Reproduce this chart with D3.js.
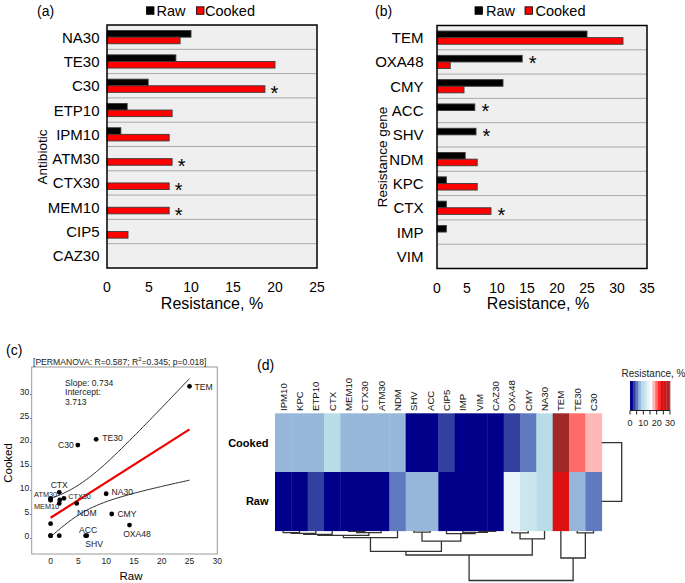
<!DOCTYPE html>
<html><head><meta charset="utf-8">
<script src="https://cdn.jsdelivr.net/npm/d3@7"></script>
<style>
body{margin:0;background:#fff}
svg{display:block;font-family:"Liberation Sans",Arial,sans-serif}
</style></head><body>
<svg id="c" width="685" height="583"></svg>
<script>
// ---------------- DATA ----------------
const series = ["Raw", "Cooked"];
const antibiotics = ["NA30","TE30","C30","ETP10","IPM10","ATM30","CTX30","MEM10","CIP5","CAZ30"];
const abRaw    = [10, 8.2, 4.9, 2.4, 1.65, 0, 0, 0, 0, 0];
const abCooked = [8.7, 20, 18.8, 7.75, 7.4, 7.75, 7.4, 7.4, 2.5, 0];
const abStars  = [["C30","Cooked"],["ATM30","Cooked"],["CTX30","Cooked"],["MEM10","Cooked"]];
const abTicks  = [0, 5, 10, 15, 20, 25];

const genes      = ["TEM","OXA48","CMY","ACC","SHV","NDM","KPC","CTX","IMP","VIM"];
const geneRaw    = [25, 14.2, 11, 6.3, 6.5, 4.7, 1.56, 1.56, 1.56, 0];
const geneCooked = [31, 2.2, 4.5, 0, 0, 6.7, 6.7, 9, 0, 0];
const geneStars  = [["OXA48","Raw"],["ACC","Raw"],["SHV","Raw"],["CTX","Cooked"]];
const geneTicks  = [0, 5, 10, 15, 20, 25, 30, 35];

const regSlope = 0.734, regIntercept = 3.713;
const permanova = {R: "0.587", R2: "0.345", p: "0.018"};
const scatterTicks = [0, 5, 10, 15, 20, 25, 30];
const scatterLabelled = ["TEM","TE30","C30","CTX","ATM30","MEM10","CTX30","NDM","NA30","CMY","OXA48","ACC","SHV"];

const hmCols = ["IPM10","KPC","ETP10","CTX","MEM10","CTX30","ATM30","NDM","SHV","ACC","CIP5","IMP","VIM","CAZ30","OXA48","CMY","NA30","TEM","TE30","C30"];
const hmRows = ["Cooked", "Raw"];
const hmThresholds = [2.1, 4.2, 6.3, 8.4, 10.5, 12.6, 14.7, 16.8, 18.9, 21, 23.1, 25.2, 27.3, 29.4];
const hmColours = ["#00008b","#3340a0","#6079bf","#96b7da","#b8dde8","#cce6ef","#e8f4f8","#ffffff",
                   "#ffb6b6","#ff6b6b","#ff2a2a","#dd1111","#c81818","#b22222","#a02828"];
const legendTicks = [0, 5, 10, 15, 20, 25, 30];
const legendLabels = [0, 10, 20, 30];

// column dendrogram merges: [left, right, height]
const colMerges = [
  ["IPM10","KPC",1.6], ["m0","ETP10",2.4], ["m1","CTX",3.4],
  ["MEM10","CTX30",0.4], ["m3","ATM30",1.6], ["m2","m4",4.4], ["m5","NDM",6.6],
  ["SHV","ACC",1.2], ["VIM","CAZ30",0.4], ["IMP","m8",1.4], ["CIP5","m9",2.6],
  ["m7","m10",10.2], ["m6","m11",20.4],
  ["OXA48","CMY",1.8], ["m13","NA30",7.8], ["m12","m14",24.0],
  ["TE30","C30",1.8], ["TEM","m16",27.0], ["m15","m17",49.5]
];
const colMaxHeight = 49.5;
const rowMerge = ["Cooked","Raw",1];

// ---------------- DRAW ----------------
const svg = d3.select("#c");
const fill = {Raw: "#000000", Cooked: "#ff0000"};

function barPanel(o) {
  const g = svg.append("g");
  const x = d3.scaleLinear().domain([0, o.xmax]).range([o.x0, o.x1]);
  const y = d3.scaleBand().domain(o.cats).range([o.y0, o.y1]);
  const ys = d3.scaleBand().domain(series).range([0, y.bandwidth()]).paddingOuter(0.84);
  g.append("rect").attr("x", o.x0).attr("y", o.y0).attr("width", o.x1 - o.x0)
    .attr("height", o.y1 - o.y0).attr("fill", "#efefef");
  g.selectAll(".grid").data(o.cats.slice(1)).join("line")
    .attr("x1", o.x0).attr("x2", o.x1).attr("y1", d => y(d)).attr("y2", d => y(d))
    .attr("stroke", "#a8a8a8").attr("stroke-width", 1);
  const rows = o.cats.map((c, i) => ({cat: c, Raw: o.raw[i], Cooked: o.cooked[i]}));
  const bars = rows.flatMap(r => series.map(s => ({cat: r.cat, s, v: r[s]}))).filter(d => d.v > 0);
  g.selectAll(".bar").data(bars).join("rect")
    .attr("x", x(0)).attr("y", d => y(d.cat) + ys(d.s))
    .attr("width", d => x(d.v) - x(0)).attr("height", ys.bandwidth())
    .attr("fill", d => fill[d.s]).attr("stroke", "#3a3a3a").attr("stroke-width", 0.9);
  g.append("rect").attr("x", o.x0).attr("y", o.y0).attr("width", o.x1 - o.x0)
    .attr("height", o.y1 - o.y0).attr("fill", "none").attr("stroke", "#000").attr("stroke-width", 1.5);
  g.selectAll(".cl").data(o.cats).join("text")
    .attr("x", o.x0 - o.labGap).attr("y", d => y(d) + y.bandwidth() / 2)
    .attr("text-anchor", "end").attr("dominant-baseline", "central")
    .attr("font-size", 15).text(d => d);
  g.selectAll(".tl").data(o.ticks).join("text")
    .attr("x", d => x(d)).attr("y", o.y1 + 19).attr("text-anchor", "middle")
    .attr("dominant-baseline", "central").attr("font-size", 14).text(d => d);
  g.append("text").attr("x", (o.x0 + o.x1) / 2 + o.titleShift).attr("y", o.y1 + 35)
    .attr("text-anchor", "middle").attr("dominant-baseline", "central")
    .attr("font-size", 16).text("Resistance, %");
  g.append("text").attr("transform", `translate(${o.ytX},157) rotate(-90)`)
    .attr("text-anchor", "middle").attr("dominant-baseline", "central")
    .attr("font-size", 13.5).text(o.ytitle);
  // legend
  const lg = g.append("g");
  o.legend.forEach((L, i) => {
    lg.append("rect").attr("x", L.sx).attr("y", 6.8).attr("width", 7.5).attr("height", 7.5)
      .attr("fill", fill[series[i]]).attr("stroke", "#000").attr("stroke-width", 0.8);
    lg.append("text").attr("x", L.tx).attr("y", 10.8).attr("dominant-baseline", "central")
      .attr("font-size", 14.5).text(series[i]);
  });
  g.append("text").attr("x", o.panelX).attr("y", 10.5).attr("dominant-baseline", "central")
    .attr("font-size", 14).text(o.panel);
  // stars
  const lookup = Object.fromEntries(rows.map(r => [r.cat, r]));
  g.selectAll(".star").data(o.stars).join("text")
    .attr("x", d => x(Math.max(lookup[d[0]].Raw, lookup[d[0]].Cooked)) + o.starGap)
    .attr("y", d => y(d[0]) + ys(d[1]) + ys.bandwidth() / 2 + 11.2)
    .attr("text-anchor", "middle").attr("font-size", 20).text("*");
}

barPanel({cats: antibiotics, raw: abRaw, cooked: abCooked, stars: abStars, ticks: abTicks,
  xmax: 25, x0: 107, x1: 317, y0: 25, y1: 268, labGap: 7.5, ytitle: "Antibiotic", ytX: 42,
  titleShift: 0, panel: "(a)", panelX: 37, starGap: 9.5,
  legend: [{sx: 146.5, tx: 156.5}, {sx: 196.5, tx: 205}]});
barPanel({cats: genes, raw: geneRaw, cooked: geneCooked, stars: geneStars, ticks: geneTicks,
  xmax: 35, x0: 437, x1: 647, y0: 25.5, y1: 268.5, labGap: 13.5, ytitle: "Resistance gene", ytX: 382,
  titleShift: -4, panel: "(b)", panelX: 375, starGap: 10.5,
  legend: [{sx: 475, tx: 486}, {sx: 525, tx: 535.5}]});

// ---------------- (c) scatter ----------------
(function () {
  const names = antibiotics.concat(genes);
  const rawV = abRaw.concat(geneRaw), cookV = abCooked.concat(geneCooked);
  const pts = names.map((n, i) => ({n, x: rawV[i], y: cookV[i]}));
  const g = svg.append("g");
  const xs = d3.scaleLinear().domain([-3.4, 30]).range([31.7, 217.3]);
  const ys = d3.scaleLinear().domain([-3.8, 35]).range([554, 367]);
  g.append("rect").attr("x", 31.7).attr("y", 367).attr("width", 217.3 - 31.7).attr("height", 554 - 367)
    .attr("fill", "none").attr("stroke", "#9a9a9a").attr("stroke-width", 1);
  g.selectAll(".xt").data(scatterTicks).join("text").attr("x", d => xs(d)).attr("y", 560.5)
    .attr("text-anchor", "middle").attr("dominant-baseline", "central").attr("font-size", 8.5).attr("fill", "#222").text(d => d);
  g.selectAll(".yt").data(scatterTicks).join("text").attr("x", 31.5).attr("y", d => ys(d) + 0.5)
    .attr("text-anchor", "end").attr("dominant-baseline", "central").attr("font-size", 8.5).attr("fill", "#222").text(d => d + ".");
  g.append("text").attr("x", 131).attr("y", 576).attr("text-anchor", "middle").attr("dominant-baseline", "central")
    .attr("font-size", 11.5).text("Raw");
  g.append("text").attr("transform", "translate(7.5,463) rotate(-90)").attr("text-anchor", "middle")
    .attr("dominant-baseline", "central").attr("font-size", 11.5).text("Cooked");
  g.append("text").attr("x", 6).attr("y", 350).attr("dominant-baseline", "central").attr("font-size", 14).text("(c)");
  const pt = g.append("text").attr("x", 33).attr("y", 362).attr("dominant-baseline", "central").attr("font-size", 8.6).attr("fill", "#222");
  pt.append("tspan").text(`[PERMANOVA: R=${permanova.R}; R`);
  pt.append("tspan").attr("font-size", 6).attr("dy", -3).text("2");
  pt.append("tspan").attr("dy", 3).text(`=${permanova.R2}; p=${permanova.p}]`);
  const st = g.append("g").attr("font-size", 8.6).attr("fill", "#222");
  [`Slope: ${regSlope}`, "Intercept:", `${regIntercept}`].forEach((t, i) =>
    st.append("text").attr("x", 65).attr("y", 383 + i * 9.3).attr("dominant-baseline", "central").text(t));
  // regression + 95% confidence band
  const n = pts.length, xbar = d3.mean(pts, d => d.x);
  const sxx = d3.sum(pts, d => (d.x - xbar) ** 2);
  const sres = Math.sqrt(d3.sum(pts, d => (d.y - (regIntercept + regSlope * d.x)) ** 2) / (n - 2));
  const tcrit = 2.101;
  const xMax = d3.max(pts, d => d.x);
  const grid = d3.range(0, xMax + 0.001, 0.25);
  const band = sgn => grid.map(v => [v, regIntercept + regSlope * v + sgn * tcrit * sres * Math.sqrt(1 / n + (v - xbar) ** 2 / sxx)]);
  const line = d3.line().x(d => xs(d[0])).y(d => ys(d[1])).curve(d3.curveBasis);
  [1, -1].forEach(s => g.append("path").attr("d", line(band(s))).attr("fill", "none").attr("stroke", "#111").attr("stroke-width", 0.9));
  g.append("line").attr("x1", xs(0)).attr("y1", ys(regIntercept)).attr("x2", xs(xMax)).attr("y2", ys(regIntercept + regSlope * xMax))
    .attr("stroke", "#ee0000").attr("stroke-width", 2.2);
  g.selectAll(".pt").data(pts).join("circle").attr("cx", d => xs(d.x)).attr("cy", d => ys(d.y)).attr("r", 2.4).attr("fill", "#000");
  // label placement (annotation layout)
  const labPos = {
    TEM: [5, 1, "start", 8.6], TE30: [6, -1, "start", 8.6], C30: [-4, 0, "end", 8.6],
    CTX: [0, -7.5, "middle", 8.6], ATM30: [6.5, -4.2, "end", 7.3], MEM10: [8.5, 6.7, "end", 7.3],
    CTX30: [17.6, -3.3, "start", 7.3], NDM: [0.4, 9.3, "start", 8.6], NA30: [5.3, -1.5, "start", 8.6],
    CMY: [5.7, 0.3, "start", 8.6], OXA48: [7.5, 9, "middle", 8.6], ACC: [2.5, -5.7, "middle", 8.6],
    SHV: [7.4, 8.6, "middle", 8.6]
  };
  const byName = Object.fromEntries(pts.map(p => [p.n, p]));
  g.selectAll(".pl").data(scatterLabelled).join("text")
    .attr("x", d => xs(byName[d].x) + labPos[d][0]).attr("y", d => ys(byName[d].y) + labPos[d][1])
    .attr("text-anchor", d => labPos[d][2]).attr("font-size", d => labPos[d][3])
    .attr("dominant-baseline", "central").attr("fill", "#222").text(d => d);
})();

// ---------------- (d) heatmap ----------------
(function () {
  const g = svg.append("g");
  const vals = {};
  antibiotics.forEach((a, i) => vals[a] = {Raw: abRaw[i], Cooked: abCooked[i]});
  genes.forEach((a, i) => vals[a] = {Raw: geneRaw[i], Cooked: geneCooked[i]});
  const x = d3.scaleBand().domain(hmCols).range([275, 601.7]);
  const y = d3.scaleBand().domain(hmRows).range([413.3, 530.7]);
  const col = d3.scaleThreshold().domain(hmThresholds).range(hmColours);
  const cells = hmRows.flatMap(r => hmCols.map(c => ({r, c, v: vals[c][r]})));
  g.selectAll(".cell").data(cells).join("rect")
    .attr("x", d => x(d.c)).attr("y", d => y(d.r)).attr("width", x.bandwidth() + 0.4).attr("height", y.bandwidth() + 0.4)
    .attr("fill", d => col(d.v));
  g.selectAll(".cl").data(hmCols).join("text")
    .attr("transform", d => `translate(${x(d) + x.bandwidth() / 2},411) rotate(-90)`)
    .attr("dominant-baseline", "central").attr("font-size", 9.6).attr("fill", "#111").text(d => d);
  g.selectAll(".rl").data(hmRows).join("text")
    .attr("x", 268.5).attr("y", d => y(d) + y.bandwidth() / 2).attr("text-anchor", "end")
    .attr("dominant-baseline", "central").attr("font-size", 11).attr("font-weight", "bold").text(d => d);
  g.append("text").attr("x", 257).attr("y", 365).attr("dominant-baseline", "central").attr("font-size", 14).text("(d)");

  // column dendrogram
  const hy = d3.scaleLinear().domain([0, colMaxHeight]).range([531, 580.5]);
  const node = {};
  hmCols.forEach(c => node[c] = {x: x(c) + x.bandwidth() / 2, h: 0});
  const segs = [];
  colMerges.forEach((m, i) => {
    const L = node[m[0]], R = node[m[1]];
    segs.push([[L.x, hy(L.h)], [L.x, hy(m[2])], [R.x, hy(m[2])], [R.x, hy(R.h)]]);
    node["m" + i] = {x: (L.x + R.x) / 2, h: m[2]};
  });
  g.selectAll(".den").data(segs).join("path").attr("d", d3.line())
    .attr("fill", "none").attr("stroke", "#333").attr("stroke-width", 1.3);
  // row dendrogram
  const hx = d3.scaleLinear().domain([0, rowMerge[2]]).range([601.7, 621.7]);
  const ya = y(rowMerge[0]) + y.bandwidth() / 2, yb = y(rowMerge[1]) + y.bandwidth() / 2;
  g.append("path").attr("d", d3.line()([[hx(0), ya], [hx(rowMerge[2]), ya], [hx(rowMerge[2]), yb], [hx(0), yb]]))
    .attr("fill", "none").attr("stroke", "#333").attr("stroke-width", 1.3);

  // colour legend
  const lx = d3.scaleLinear().domain([0, 30]).range([630, 670]).clamp(true);
  const edges = [0].concat(hmThresholds).concat([31.5]);
  const stripes = hmColours.map((c, i) => ({c, a: edges[i], b: edges[i + 1]}));
  g.selectAll(".stripe").data(stripes).join("rect")
    .attr("x", d => lx(d.a)).attr("y", 381).attr("width", d => Math.max(0, lx(d.b) - lx(d.a)) + 0.3).attr("height", 29)
    .attr("fill", d => d.c);
  g.append("line").attr("x1", 630).attr("x2", 670).attr("y1", 410.5).attr("y2", 410.5).attr("stroke", "#222");
  g.selectAll(".lt").data(legendTicks).join("line").attr("x1", d => lx(d)).attr("x2", d => lx(d))
    .attr("y1", 410.5).attr("y2", 414.5).attr("stroke", "#222");
  g.selectAll(".ll").data(legendLabels).join("text").attr("x", d => lx(d)).attr("y", 423)
    .attr("text-anchor", "middle").attr("dominant-baseline", "central").attr("font-size", 9).attr("fill", "#222").text(d => d);
  g.append("text").attr("x", 653.5).attr("y", 373).attr("text-anchor", "middle").attr("dominant-baseline", "central")
    .attr("font-size", 10).attr("fill", "#222").text("Resistance, %");
})();
</script>
</body></html>
